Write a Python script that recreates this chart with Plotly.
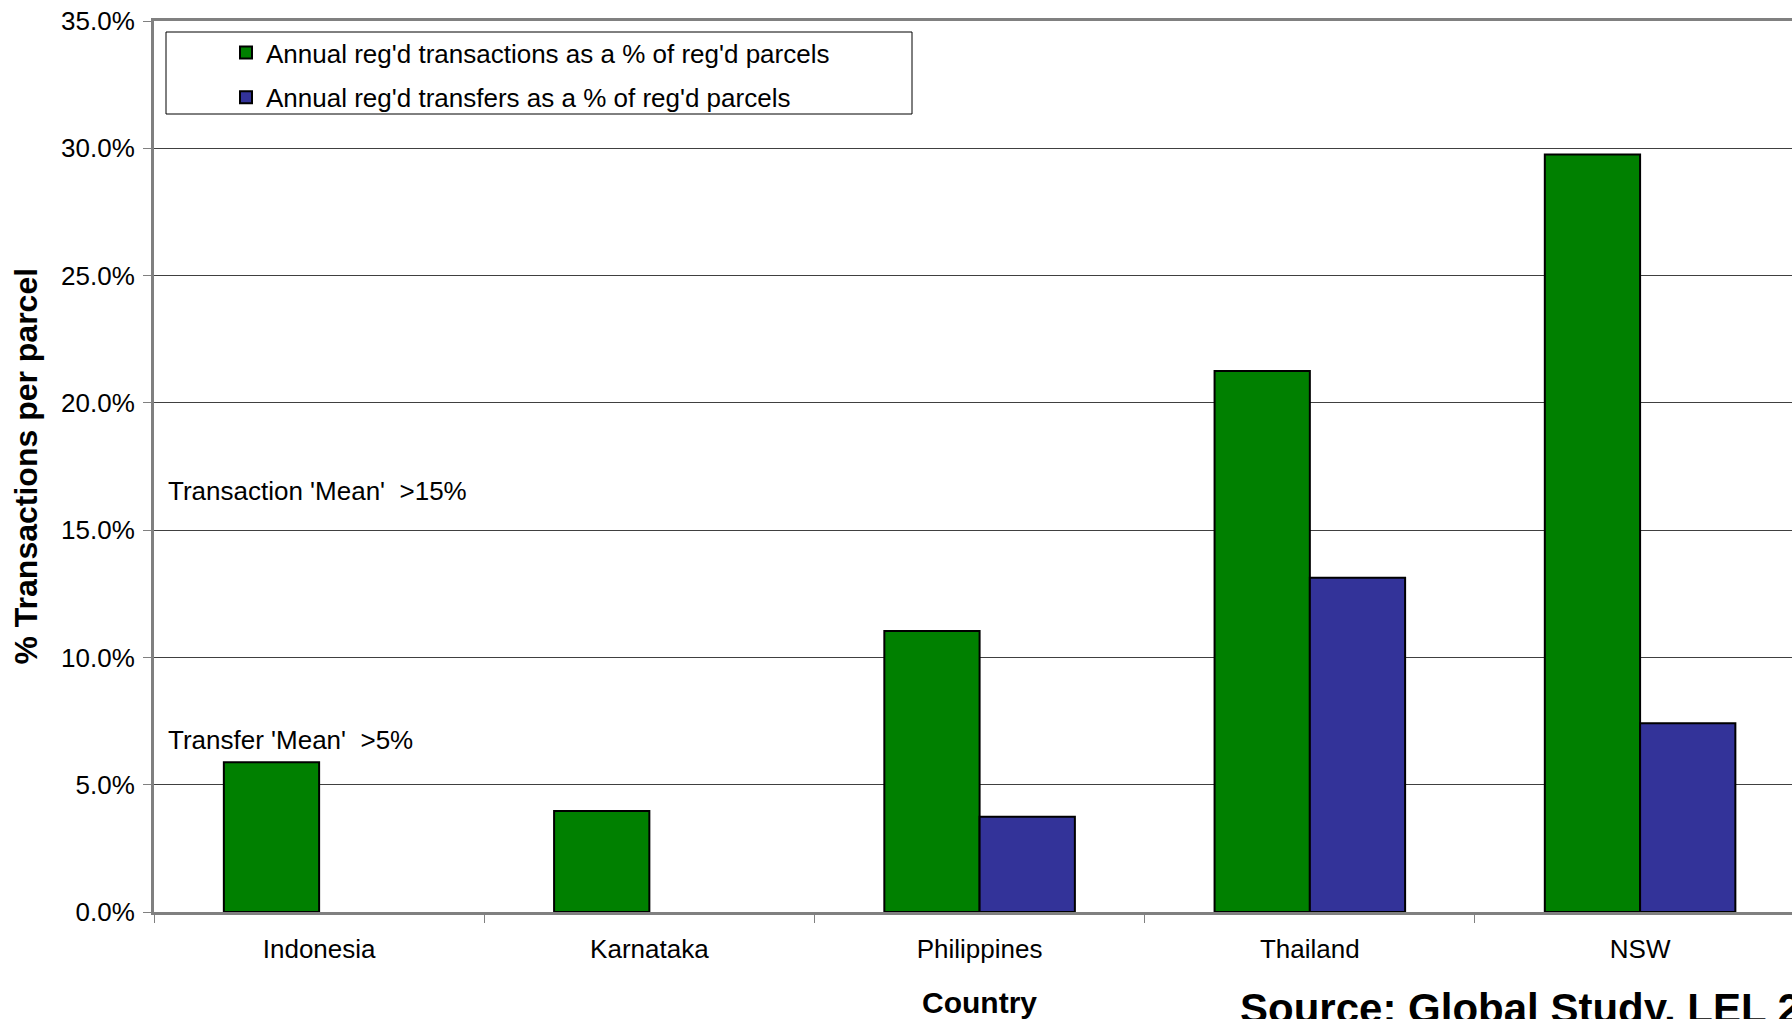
import plotly.graph_objects as go

# Registry activity by jurisdiction (percent of registered parcels per year)
countries = ["Indonesia", "Karnataka", "Philippines", "Thailand", "NSW"]
transactions_pct = [5.88, 3.97, 11.04, 21.25, 29.76]
transfers_pct = [None, None, 3.74, 13.13, 7.41]

series_names = [
    "Annual reg'd transactions as a % of reg'd parcels",
    "Annual reg'd transfers as a % of reg'd parcels",
]
series_colors = ["#008000", "#333399"]

y_ticks = [0, 5, 10, 15, 20, 25, 30, 35]

W, H = 1792, 1019
L, T, B = 154, 21, 912          # plot area edges in pixels
PW, PH = W - L, B - T


def px_x(p):
    return (p - L) / PW


def px_y(p):
    return (B - p) / PH


FONT = "Arial, Liberation Sans, Helvetica, sans-serif"

fig = go.Figure()
for i, vals in enumerate([transactions_pct, transfers_pct]):
    fig.add_trace(go.Bar(
        x=countries,
        y=vals,
        name=series_names[i],
        legendgroup=f"g{i}",
        marker=dict(color=series_colors[i], line=dict(color="black", width=2)),
    ))

fig.update_layout(
    width=W, height=H,
    margin=dict(l=L, r=0, t=T, b=H - B, pad=0),
    paper_bgcolor="white", plot_bgcolor="white",
    barmode="group", bargap=0.423, bargroupgap=0,
    font=dict(family=FONT, size=26, color="black"),
    showlegend=True,
    legend=dict(
        x=px_x(226), y=px_y(29), xanchor="left", yanchor="top",
        bgcolor="rgba(0,0,0,0)", borderwidth=0,
        font=dict(family=FONT, size=26, color="black"),
        tracegroupgap=8, traceorder="grouped",
    ),
    xaxis=dict(
        type="category",
        range=[-0.5, 4.46],
        showline=True, linecolor="#808080", linewidth=3, mirror=True,
        ticks="outside", tickson="boundaries", ticklen=8, tickcolor="#808080", tickwidth=1,
        ticklabelstandoff=12,
        showgrid=False,
        tickfont=dict(family=FONT, size=26, color="black"),
    ),
    yaxis=dict(
        range=[0, 35],
        tickvals=y_ticks,
        ticktext=[f"{v:.1f}%" for v in y_ticks],
        showline=True, linecolor="#808080", linewidth=3,
        ticks="outside", ticklen=8, tickcolor="#808080", tickwidth=1,
        ticklabelstandoff=3,
        showgrid=True, gridcolor="#404040", gridwidth=1,
        zeroline=False,
        tickfont=dict(family=FONT, size=26, color="black"),
    ),
)

# legend frame
fig.add_shape(type="rect", xref="paper", yref="paper",
              x0=px_x(166), x1=px_x(912), y0=px_y(114), y1=px_y(32),
              line=dict(color="black", width=1), fillcolor="white", layer="above")

annotations = [
    dict(text="Transaction 'Mean'  >15%", x=px_x(166), y=px_y(491),
         xanchor="left", yanchor="middle", font=dict(size=26)),
    dict(text="Transfer 'Mean'  >5%", x=px_x(166), y=px_y(740),
         xanchor="left", yanchor="middle", font=dict(size=26)),
    dict(text="<b>% Transactions per parcel</b>", x=px_x(25), y=0.5, textangle=-90,
         xanchor="center", yanchor="middle", font=dict(size=32)),
    dict(text="<b>Country</b>", x=px_x(979), y=px_y(1002),
         xanchor="center", yanchor="middle", font=dict(size=30)),
    dict(text="<b>Source: Global Study, LEL 2</b>", x=px_x(1238), y=px_y(1008),
         xanchor="left", yanchor="middle", font=dict(size=42)),
]
for a in annotations:
    fig.add_annotation(xref="paper", yref="paper", showarrow=False, **a)

fig.write_html("out.html")
